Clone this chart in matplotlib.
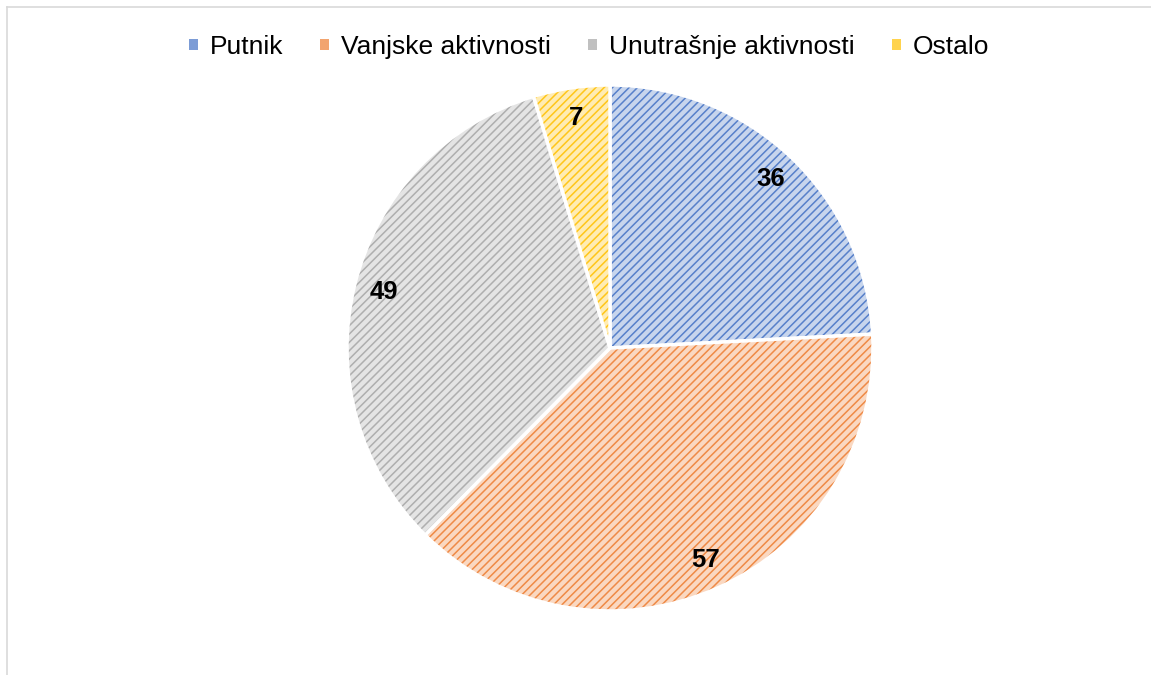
import matplotlib
matplotlib.use("Agg")
import matplotlib.pyplot as plt
from matplotlib.patches import Patch
from matplotlib.lines import Line2D
import matplotlib.colors as colors

labels = ["Putnik", "Vanjske aktivnosti", "Unutrašnje aktivnosti", "Ostalo"]
values = [36, 57, 49, 7]
base_colors = ["#4472C4", "#ED7D31", "#A5A5A5", "#FFC000"]

plt.rcParams['font.family'] = ['Liberation Sans', 'DejaVu Sans']
plt.rcParams['hatch.linewidth'] = 1.1


def lighten(c, amount=0.72):
    r, g, b = colors.to_rgb(c)
    return (r + (1 - r) * amount, g + (1 - g) * amount, b + (1 - b) * amount)


W, H = 1151, 675
fig = plt.figure(figsize=(W / 100, H / 100), dpi=100)

# pie centre and radius in pixels
cx, cy, rad = 610, 348, 263
ax = fig.add_axes([(cx - rad) / W, (H - cy - rad) / H, 2 * rad / W, 2 * rad / H])

wedges, texts = ax.pie(
    values,
    startangle=90,
    counterclock=False,
    labels=[str(v) for v in values],
    labeldistance=0.885,
    colors=[lighten(c, 0.7) for c in base_colors],
    wedgeprops={'edgecolor': 'white', 'linewidth': 2.5},
    textprops={'fontsize': 18.5, 'fontweight': 'bold', 'color': 'black',
               'ha': 'center', 'va': 'center'},
)
for w, c in zip(wedges, base_colors):
    w.set_hatch('////')
    w._hatch_color = colors.to_rgba(lighten(c, 0.1))

ax.set_xlim(-1, 1)
ax.set_ylim(-1, 1)
ax.set_aspect('equal')
ax.axis('off')

handles = []
for c in base_colors:
    p = Patch(facecolor=lighten(c, 0.3), edgecolor='none')
    handles.append(p)

fig.legend(handles, labels, loc='center', bbox_to_anchor=(589 / W, 1 - 47 / H),
           ncol=4, frameon=False, fontsize=19, handlelength=0.35, handleheight=0.22,
           handletextpad=0.45, columnspacing=1.4)

# chart border (top and left visible)
fig.add_artist(Line2D([7 / W, 1], [1 - 7 / H, 1 - 7 / H], color='#D9D9D9', lw=1.2))
fig.add_artist(Line2D([7 / W, 7 / W], [0, 1 - 7 / H], color='#D9D9D9', lw=1.2))

fig.savefig('out.png', dpi=100)
